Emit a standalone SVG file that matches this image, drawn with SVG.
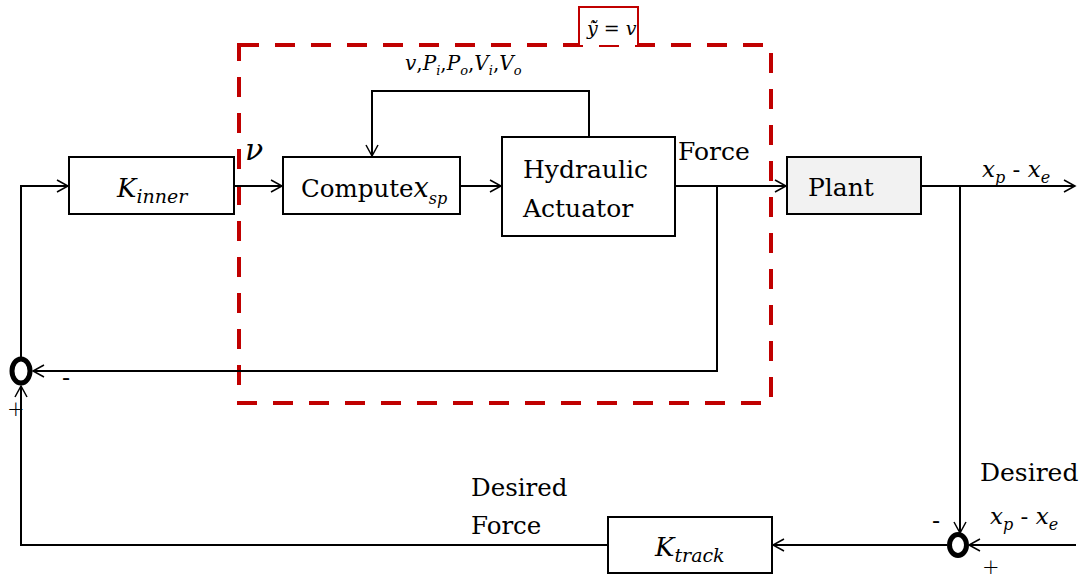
<svg xmlns="http://www.w3.org/2000/svg" width="1086" height="577" viewBox="0 0 1086 577">
<defs>
<marker id="arr" markerWidth="14" markerHeight="14" refX="12" refY="7" orient="auto" markerUnits="userSpaceOnUse">
<path d="M1,1 L12,7 L1,13" fill="none" stroke="#000" stroke-width="1.5"/>
</marker>
<style>
.box{fill:#fff;stroke:#000;stroke-width:2}
.ln{fill:none;stroke:#000;stroke-width:2}
.sum{fill:none;stroke:#000;stroke-width:5}
.i{font-style:italic}
text{font-family:"DejaVu Serif",serif;fill:#000}
.pm{font-family:"DejaVu Sans",sans-serif;font-weight:200}
</style>
</defs>
<rect width="1086" height="577" fill="#fff"/>
<rect id="dashbox" x="239" y="45" width="532" height="358" fill="none" stroke="#c00000" stroke-width="4" stroke-dasharray="20 16"/>
<g id="connectors">
<path class="ln" d="M234,186 H282" marker-end="url(#arr)"/>
<path class="ln" d="M460,186 H501" marker-end="url(#arr)"/>
<path class="ln" d="M589,137 V91 H372 V156" marker-end="url(#arr)"/>
<path class="ln" d="M675,186 H786" marker-end="url(#arr)"/>
<path class="ln" d="M717,186 V371 H33" marker-end="url(#arr)"/>
<path class="ln" d="M921,186 H1075" marker-end="url(#arr)"/>
<path class="ln" d="M960,186 V533" marker-end="url(#arr)"/>
<path class="ln" d="M1076,545 H969" marker-end="url(#arr)"/>
<path class="ln" d="M947,545 H773" marker-end="url(#arr)"/>
<path class="ln" d="M608,545 H21 V386" marker-end="url(#arr)"/>
<path class="ln" d="M21,357 V186 H68" marker-end="url(#arr)"/>
</g>
<g id="ylabel">
<path d="M579,45 V7 H638 V45" fill="#fff" stroke="#c00000" stroke-width="2"/>
<text x="587" y="35" font-size="19"><tspan class="i">ỹ̇</tspan> = <tspan class="i">v</tspan></text>
</g>
<g id="sum1">
<ellipse class="sum" cx="21" cy="371" rx="9" ry="12"/>
<text x="62" y="386" font-size="24">-</text>
<text class="pm" x="7" y="416" font-size="21">+</text>
</g>
<g id="sum2">
<ellipse class="sum" cx="958" cy="545" rx="8.5" ry="10.5"/>
<text x="932" y="529" font-size="24">-</text>
<text class="pm" x="982" y="574" font-size="21">+</text>
</g>
<g id="kinner">
<rect class="box" x="69" y="157" width="165" height="57"/>
<text class="i" x="117" y="197" font-size="26">K<tspan font-size="19" dy="6">inner</tspan></text>
</g>
<text class="i" x="245" y="160" font-size="30">ν</text>
<g id="compute">
<rect class="box" x="283" y="157" width="177" height="57"/>
<text x="301" y="197" font-size="24.5">Compute<tspan class="i" font-size="27">x</tspan><tspan class="i" font-size="16" dy="7">sp</tspan></text>
</g>
<text x="405" y="70" font-size="20"><tspan class="i">v</tspan>,<tspan class="i">P</tspan><tspan class="i" font-size="13" dy="5">i</tspan><tspan dy="-5">,</tspan><tspan class="i">P</tspan><tspan class="i" font-size="13" dy="5">o</tspan><tspan dy="-5">,</tspan><tspan class="i">V</tspan><tspan class="i" font-size="13" dy="5">i</tspan><tspan dy="-5">,</tspan><tspan class="i">V</tspan><tspan class="i" font-size="13" dy="5">o</tspan></text>
<g id="hydraulic">
<rect class="box" x="502" y="137" width="173" height="99"/>
<text x="523" y="178" font-size="25">Hydraulic</text>
<text x="523" y="217" font-size="25">Actuator</text>
</g>
<text x="678" y="160" font-size="25">Force</text>
<g id="plant">
<rect x="787" y="157" width="134" height="57" fill="#f2f2f2" stroke="#000" stroke-width="2"/>
<text x="808" y="196" font-size="25">Plant</text>
</g>
<text class="i" x="982" y="177" font-size="23">x<tspan font-size="16" dy="6">p</tspan><tspan font-style="normal" dy="-6"> - </tspan>x<tspan font-size="16" dy="6">e</tspan></text>
<text x="980" y="481" font-size="25">Desired</text>
<text class="i" x="990" y="524" font-size="23">x<tspan font-size="16" dy="6">p</tspan><tspan font-style="normal" dy="-6"> - </tspan>x<tspan font-size="16" dy="6">e</tspan></text>
<text x="471" y="496" font-size="24.5">Desired</text>
<text x="471" y="534" font-size="24.5">Force</text>
<g id="ktrack">
<rect class="box" x="608" y="517" width="164" height="56"/>
<text class="i" x="655" y="556" font-size="26">K<tspan font-size="19" dy="6">track</tspan></text>
</g>
</svg>
